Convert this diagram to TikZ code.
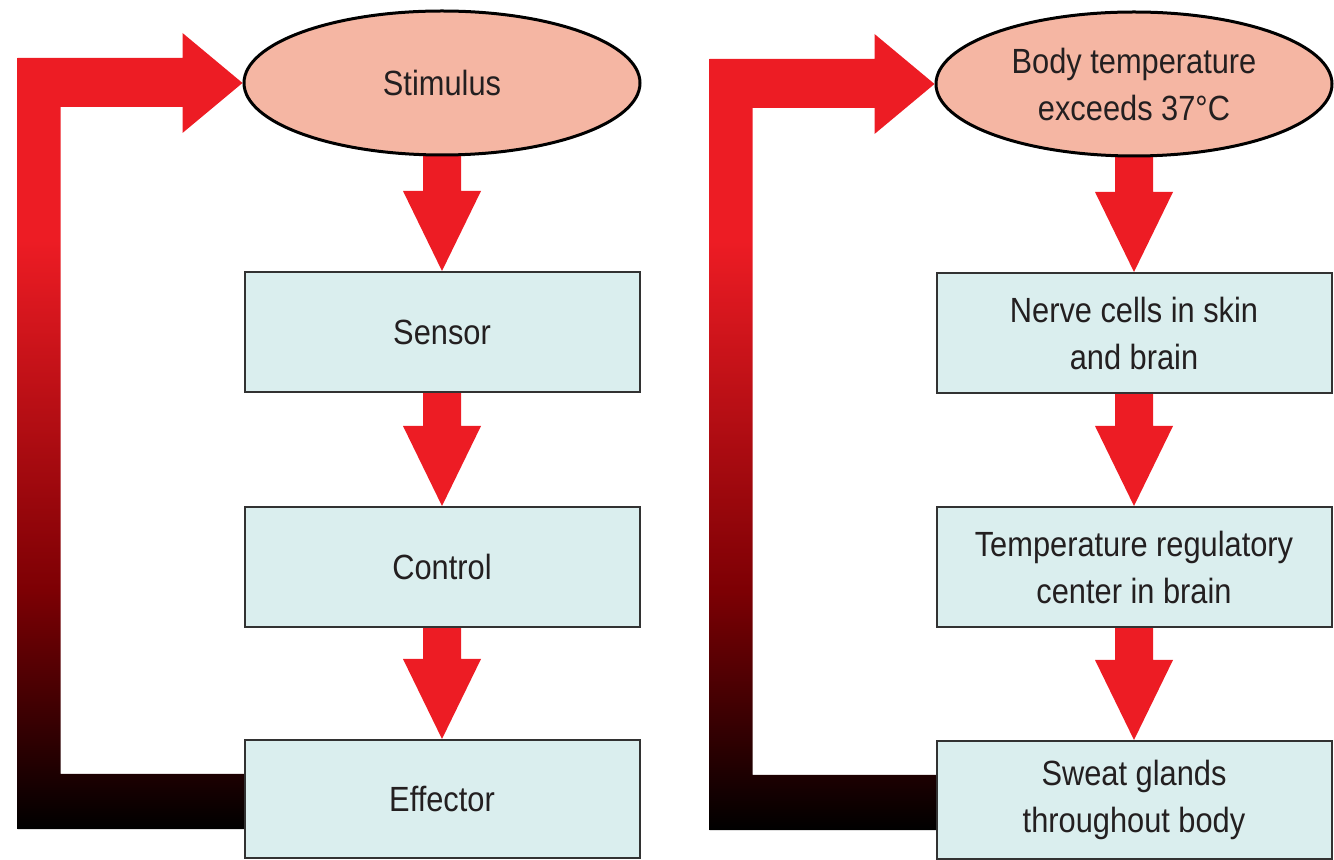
\documentclass[tikz,border=0pt]{standalone}
\usepackage{fontspec}
\setmainfont{Liberation Sans}[FakeStretch=0.88]
\usetikzlibrary{shapes.geometric,calc,backgrounds}
\definecolor{fbred}{RGB}{237,28,36}
\definecolor{fbdark}{RGB}{125,0,4}
\definecolor{stimfill}{RGB}{245,182,163}
\definecolor{boxfill}{RGB}{218,238,238}
\definecolor{txt}{RGB}{35,31,32}
\definecolor{boxline}{RGB}{50,50,50}
\pgfdeclareverticalshading{fbshade}{100bp}{color(0bp)=(black); color(25bp)=(black); color(40bp)=(fbdark); color(62bp)=(fbred); color(100bp)=(fbred)}
\newcommand\myflowarrow[2]{%
  \fill[fbred] ($(#1.south)+(-19,-4)$) -- ($(#2.north)+(-19,-80)$) -- ($(#2.north)+(-39,-80)$) -- (#2.north) -- ($(#2.north)+(39,-80)$) -- ($(#2.north)+(19,-80)$) -- ($(#1.south)+(19,-4)$) -- cycle;}
\newcommand\myfeedback[3]{%
  \coordinate (#3o) at ($(#2.west)+(-226,0)$);
  \coordinate (#3i) at ($(#2.west)+(-183,0)$);
  \coordinate (#3tt) at ($(#1.west)+(0,-25)$);
  \coordinate (#3tb) at ($(#1.west)+(0,24)$);
  \coordinate (#3bt) at ($(#2.west)+(0,-25)$);
  \coordinate (#3bb) at ($(#2.west)+(0,30)$);
  \shade[shading=fbshade] (#1.west) -- ++(-60,-50) -- ++(0,25) -- (#3o |- #3tt) -- (#3o |- #3bb) -- ($(#2.west)+(3,30)$) -- ($(#2.west)+(3,-25)$) -- (#3i |- #3bt) -- (#3i |- #3tb) -- ($(#1.west)+(-60,24)$) -- ++(0,26) -- cycle;}
\begin{document}
\begin{tikzpicture}[x=0.5pt,y=-0.5pt,
  every node/.style={text=txt, font=\fontsize{17.5}{23.5}\selectfont, align=center},
  stim/.style={ellipse, draw=black, line width=1.5pt, fill=stimfill, inner sep=0pt, minimum width=198pt, minimum height=72pt},
  box/.style={rectangle, draw=boxline, line width=1pt, fill=boxfill, inner sep=0pt, minimum width=197.5pt, minimum height=60pt},
  lastbox/.style={box, minimum height=59pt}]
\useasboundingbox (0,0) rectangle (1334,860);
% left diagram
\node[stim] (stimL) at (442,83) {Stimulus};
\node[box] (sensor) at (442,332) {Sensor};
\node[box] (control) at (442,567) {Control};
\node[lastbox] (effector) at (442,799) {Effector};
% right diagram
\node[stim] (stimR) at (1134,84) {Body temperature\\exceeds 37°C};
\node[box] (nerve) at (1134,333) {Nerve cells in skin\\and brain};
\node[box] (temp) at (1134,567) {Temperature regulatory\\center in brain};
\node[lastbox] (sweat) at (1134,800) {Sweat glands\\throughout body};
\begin{scope}[on background layer]
  \myflowarrow{stimL}{sensor}
  \myflowarrow{sensor}{control}
  \myflowarrow{control}{effector}
  \myflowarrow{stimR}{nerve}
  \myflowarrow{nerve}{temp}
  \myflowarrow{temp}{sweat}
  \myfeedback{stimL}{effector}{fl}
  \myfeedback{stimR}{sweat}{fr}
\end{scope}
\end{tikzpicture}
\end{document}
